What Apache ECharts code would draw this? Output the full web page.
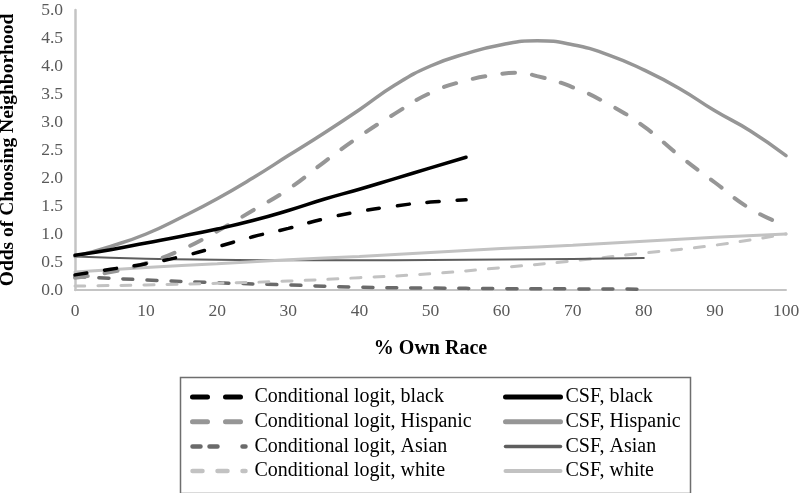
<!DOCTYPE html>
<html>
<head>
<meta charset="utf-8">
<script src="https://cdn.jsdelivr.net/npm/echarts@6/dist/echarts.min.js"></script>
<style>
html,body{margin:0;padding:0;background:#fff;}
#chart{width:800px;height:493px;}
</style>
</head>
<body>
<div id="chart"></div>
<script>
// ---- Data ----
var xAxisTicks = [0, 10, 20, 30, 40, 50, 60, 70, 80, 90, 100];
var yAxisTicks = [0.0, 0.5, 1.0, 1.5, 2.0, 2.5, 3.0, 3.5, 4.0, 4.5, 5.0];

var seriesNames = [
  'Conditional logit, black', 'Conditional logit, Hispanic',
  'Conditional logit, Asian', 'Conditional logit, white',
  'CSF, black', 'CSF, Hispanic', 'CSF, Asian', 'CSF, white'
];

var clBlackX = [0, 5, 10, 15, 20, 25, 30, 35, 40, 45, 50, 55];
var clBlackY = [0.27, 0.37, 0.47, 0.6, 0.77, 0.95, 1.1, 1.27, 1.4, 1.5, 1.57, 1.61];

var clHispX = [0, 5, 10, 15, 20, 25, 30, 35, 40, 45, 50, 55, 60, 62, 65, 70, 75, 80, 85, 90, 95, 100];
var clHispY = [0.22, 0.32, 0.48, 0.72, 1.05, 1.42, 1.8, 2.28, 2.74, 3.15, 3.52, 3.74, 3.86, 3.88, 3.82, 3.62, 3.32, 2.92, 2.4, 1.92, 1.45, 1.15];

var clAsianX = [0, 10, 20, 30, 40, 50, 60, 70, 80];
var clAsianY = [0.24, 0.18, 0.13, 0.09, 0.05, 0.035, 0.025, 0.02, 0.015];

var clWhiteX = [0, 10, 20, 30, 40, 50, 60, 70, 80, 90, 100];
var clWhiteY = [0.07, 0.09, 0.12, 0.16, 0.22, 0.29, 0.4, 0.52, 0.66, 0.8, 1.0];

var csfBlackX = [0, 5, 10, 15, 20, 25, 30, 35, 40, 45, 50, 55];
var csfBlackY = [0.62, 0.72, 0.84, 0.96, 1.09, 1.24, 1.42, 1.62, 1.8, 1.99, 2.18, 2.37];

var csfHispX = [0, 5, 10, 15, 20, 25, 30, 35, 40, 45, 50, 55, 60, 65, 70, 75, 80, 85, 90, 95, 100];
var csfHispY = [0.6, 0.78, 1.0, 1.3, 1.63, 2.0, 2.4, 2.8, 3.22, 3.66, 4.0, 4.22, 4.38, 4.45, 4.38, 4.2, 3.93, 3.6, 3.2, 2.84, 2.4];

var csfAsianX = [0, 10, 20, 30, 40, 50, 60, 70, 80];
var csfAsianY = [0.6, 0.56, 0.54, 0.53, 0.53, 0.535, 0.545, 0.555, 0.57];

var csfWhiteX = [0, 10, 20, 30, 40, 50, 60, 70, 80, 90, 100];
var csfWhiteY = [0.32, 0.4, 0.47, 0.54, 0.6, 0.67, 0.74, 0.8, 0.87, 0.94, 1.0];

function pairs(xs, ys) { return xs.map(function (x, i) { return [x, ys[i]]; }); }

var FONT = 'Liberation Serif';

function mk(name, xs, ys, color, width, type, z) {
  return {
    name: name, type: 'line', smooth: true, symbol: 'none',
    data: pairs(xs, ys), z: z || 2,
    lineStyle: { color: color, width: width, type: type, cap: 'round' },
    itemStyle: { color: color },
    emphasis: { disabled: true }
  };
}

function legendItem(name, w, dash) {
  var ls = { width: w, cap: 'round' };
  if (dash) { ls.type = dash; }
  return { name: name, lineStyle: ls };
}

var legendCommon = {
  orient: 'vertical', top: 387, padding: 0,
  itemHeight: 20, itemGap: 4.7,
  itemStyle: { color: 'rgba(0,0,0,0)', borderColor: 'rgba(0,0,0,0)', borderWidth: 0, opacity: 0 },
  selectedMode: false
};

var chart = echarts.init(document.getElementById('chart'), null, { renderer: 'canvas' });
var option = {
  animation: false,
  backgroundColor: '#ffffff',
  grid: { left: 75, right: 14, top: 10, bottom: 203, containLabel: false, outerBoundsMode: 'none' },
  xAxis: {
    type: 'value', min: 0, max: 100, interval: 10,
    name: '% Own Race', nameLocation: 'middle', nameGap: 49,
    nameTextStyle: { fontFamily: FONT, fontWeight: 'bold', fontSize: 20, color: '#000' },
    axisLine: { show: true, onZero: false, lineStyle: { color: '#c4c4c4', width: 2 } },
    axisTick: { show: false },
    splitLine: { show: false },
    axisLabel: { fontFamily: FONT, fontSize: 17.5, color: '#595959', margin: 12 }
  },
  yAxis: {
    type: 'value', min: 0, max: 5, interval: 0.5,
    name: 'Odds of Choosing Neighborhood', nameLocation: 'middle', nameGap: 57,
    nameTextStyle: { fontFamily: FONT, fontWeight: 'bold', fontSize: 19.5, color: '#000' },
    axisLine: { show: true, lineStyle: { color: '#c4c4c4', width: 2.5 } },
    axisTick: { show: false },
    splitLine: { show: false },
    axisLabel: { fontFamily: FONT, fontSize: 17.5, color: '#595959', margin: 12,
      formatter: function (v) { return v.toFixed(1); } }
  },
  legend: [
    Object.assign({}, legendCommon, {
      left: 190, itemWidth: 53,
      textStyle: { fontFamily: FONT, fontSize: 20, color: '#000', padding: [0, 0, 0, 4] },
      data: [legendItem(seriesNames[0], 5, [15, 18]), legendItem(seriesNames[1], 5, [15, 18]),
             legendItem(seriesNames[2], 4.5, [8, 9, 8, 25]), legendItem(seriesNames[3], 4.5, [10, 15])]
    }),
    Object.assign({}, legendCommon, {
      left: 503, itemWidth: 55,
      textStyle: { fontFamily: FONT, fontSize: 20, color: '#000' },
      data: [legendItem(seriesNames[4], 5), legendItem(seriesNames[5], 5),
             legendItem(seriesNames[6], 3.5), legendItem(seriesNames[7], 4)]
    })
  ],
  graphic: [
    {
      type: 'rect', left: 178, top: 375,
      shape: { width: 510, height: 116 },
      style: { fill: 'none', stroke: '#6e6e6e', lineWidth: 1.5 },
      silent: true
    }
  ],
  series: [
    mk(seriesNames[0], clBlackX, clBlackY, '#000000', 3.5, [12, 18], 5),
    mk(seriesNames[1], clHispX, clHispY, '#969696', 4, [13, 17], 4),
    mk(seriesNames[2], clAsianX, clAsianY, '#6a6a6a', 3.5, [10, 14], 3),
    mk(seriesNames[3], clWhiteX, clWhiteY, '#c2c2c2', 3, [10, 13], 3),
    mk(seriesNames[4], csfBlackX, csfBlackY, '#000000', 3.5, 'solid', 5),
    mk(seriesNames[5], csfHispX, csfHispY, '#969696', 3.5, 'solid', 4),
    mk(seriesNames[6], csfAsianX, csfAsianY, '#5e5e5e', 2, 'solid', 3),
    mk(seriesNames[7], csfWhiteX, csfWhiteY, '#c2c2c2', 3, 'solid', 3)
  ]
};
chart.setOption(option);
</script>
</body>
</html>
